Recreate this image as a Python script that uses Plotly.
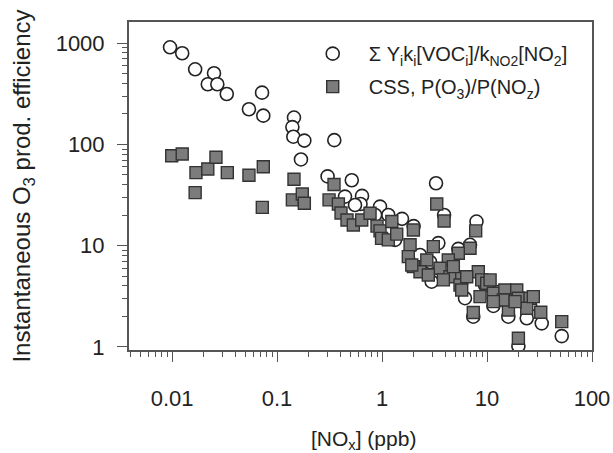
import plotly.graph_objects as go

# Sum Y_i k_i [VOC_i] / k_NO2 [NO2]  (open circles)
voc_nox = [0.00957, 0.0125, 0.0166, 0.0251, 0.0219, 0.027, 0.0332, 0.072, 0.054, 0.074,
           0.145, 0.14, 0.143, 0.182, 0.351, 0.169, 0.303, 0.515, 0.444, 0.645,
           0.624, 0.957, 1.148, 1.55, 2.0, 3.27, 3.9, 7.94, 3.44, 5.33,
           6.89, 2.97, 6.17, 7.4, 11.5, 15.96, 19.9, 23.9, 33.2, 51.5,
           1.33, 2.3, 2.87, 3.98, 4.64, 9.57, 12.7, 16.6, 25.7, 0.86, 0.553]
voc_eff = [908, 793, 551, 504, 392, 392, 314, 324, 222, 192,
           184, 148, 119, 109, 110, 71, 48.3, 44.2, 30.5, 31,
           25.8, 24.3, 20.1, 18.4, 15.6, 41.3, 20.1, 17.3, 10.6, 9.3,
           10.2, 4.41, 3.03, 1.99, 2.54, 1.99, 1.02, 1.92, 1.71, 1.28,
           11.4, 8.1, 6.9, 5.75, 5.14, 4.09, 3.49, 2.91, 2.6, 20.1, 25.2]

# CSS, P(O3)/P(NOz)  (grey squares)
css_nox = [0.00993, 0.0125, 0.0169, 0.0219, 0.0262, 0.0336, 0.0166, 0.054, 0.074, 0.0724,
           0.145, 0.14, 0.174, 0.182, 0.313, 0.349, 0.384, 0.407, 0.464, 0.533,
           0.641, 0.769, 0.896, 0.957, 0.99, 1.148, 1.24, 1.38, 1.99, 3.32,
           3.9, 7.8, 1.85, 1.78, 3.08, 6.89, 5.33, 2.67, 4.28, 1.99,
           3.57, 2.3, 2.76, 4.44, 5.74, 8.26, 8.9, 3.84, 4.78, 5.53,
           9.93, 5.74, 8.58, 11.5, 14.8, 19.2, 15.4, 19.9, 25.7, 16.0,
           23.9, 7.4, 32.5, 51.5, 19.9, 1.92, 6.41, 10.7, 14.3, 18.5,
           27.6, 11.5]
css_eff = [77.3, 80.4, 52.6, 57.2, 74.6, 52.6, 33.4, 49.5, 60.2, 23.9,
           45.2, 28.3, 32.4, 26.2, 28.3, 40.2, 25.8, 21, 17.9, 16,
           17.9, 20.9, 15.6, 14, 11.8, 11.4, 17.3, 13.0, 14.3, 25.8,
           17.5, 14, 10.2, 7.79, 9.78, 9.43, 8.41, 7.22, 7.22, 6.21,
           5.98, 5.53, 5.14, 4.94, 4.77, 5.53, 4.59, 4.59, 6.21, 4.09,
           4.26, 3.65, 3.14, 3.39, 3.65, 3.65, 2.91, 3.03, 3.03, 2.32,
           2.41, 2.19, 2.2, 1.78, 1.22, 6.45, 4.94, 4.59, 2.91, 2.8,
           3.14, 2.8]

x_ticks = [0.01, 0.1, 1, 10, 100]
x_tick_labels = ["0.01", "0.1", "1", "10", "100"]
y_ticks = [1, 10, 100, 1000]
y_tick_labels = ["1", "10", "100", "1000"]

FONT = "Liberation Sans, Arial, sans-serif"
AX = "#555555"
TXT = "#222222"
GAP = "\u00a0\u00a0"

fig = go.Figure()
fig.add_trace(go.Scatter(
    x=voc_nox, y=voc_eff, mode="markers", legendgroup="a",
    name=GAP + "Σ Y<sub>i</sub>k<sub>i</sub>[VOC<sub>i</sub>]/k<sub>NO2</sub>[NO<sub>2</sub>]",
    marker=dict(symbol="circle", size=13, color="white",
                line=dict(color="#222222", width=1.6)),
))
fig.add_trace(go.Scatter(
    x=css_nox, y=css_eff, mode="markers", legendgroup="b",
    name=GAP + "CSS, P(O<sub>3</sub>)/P(NO<sub>z</sub>)",
    marker=dict(symbol="square", size=12, color="#7c7c7c",
                line=dict(color="#333333", width=1.4)),
))

axis_common = dict(
    type="log", showgrid=False, zeroline=False,
    showline=True, linecolor=AX, linewidth=2, mirror=True,
    ticks="outside", ticklen=10, tickwidth=1.3, tickcolor=AX,
    tickfont=dict(size=22, color=TXT, family=FONT),
    minor=dict(ticks="outside", ticklen=5, tickwidth=1, tickcolor=AX,
               dtick="D1", showgrid=False),
    automargin=False,
)

fig.update_xaxes(
    **axis_common, range=[-2.41, 2.0],
    tickvals=x_ticks, ticktext=x_tick_labels, ticklabelstandoff=18,
)
fig.update_yaxes(
    **axis_common, range=[-0.03, 3.208],
    tickvals=y_ticks, ticktext=y_tick_labels, ticklabelstandoff=8,
    title=dict(text="Instantaneous O<sub>3</sub> prod. efficiency",
               font=dict(size=24, color=TXT, family=FONT), standoff=18),
)

fig.add_annotation(
    text="[NO<sub>x</sub>] (ppb)", xref="paper", yref="paper",
    x=0.5054, y=-0.274, xanchor="center", yanchor="middle", showarrow=False,
    font=dict(size=21, color=TXT, family=FONT),
)

fig.update_layout(
    width=613, height=453,
    margin=dict(l=129, r=21, t=22, b=103),
    paper_bgcolor="white", plot_bgcolor="white",
    font=dict(family=FONT, color=TXT),
    legend=dict(x=0.386, y=0.963, xanchor="left", yanchor="top",
                bgcolor="rgba(0,0,0,0)", font=dict(size=20, family=FONT, color=TXT),
                itemwidth=40, traceorder="grouped", tracegroupgap=4),
    showlegend=True,
)

fig.write_html("out.html", config={"displayModeBar": False},
               post_script="document.body.style.margin='0';")
